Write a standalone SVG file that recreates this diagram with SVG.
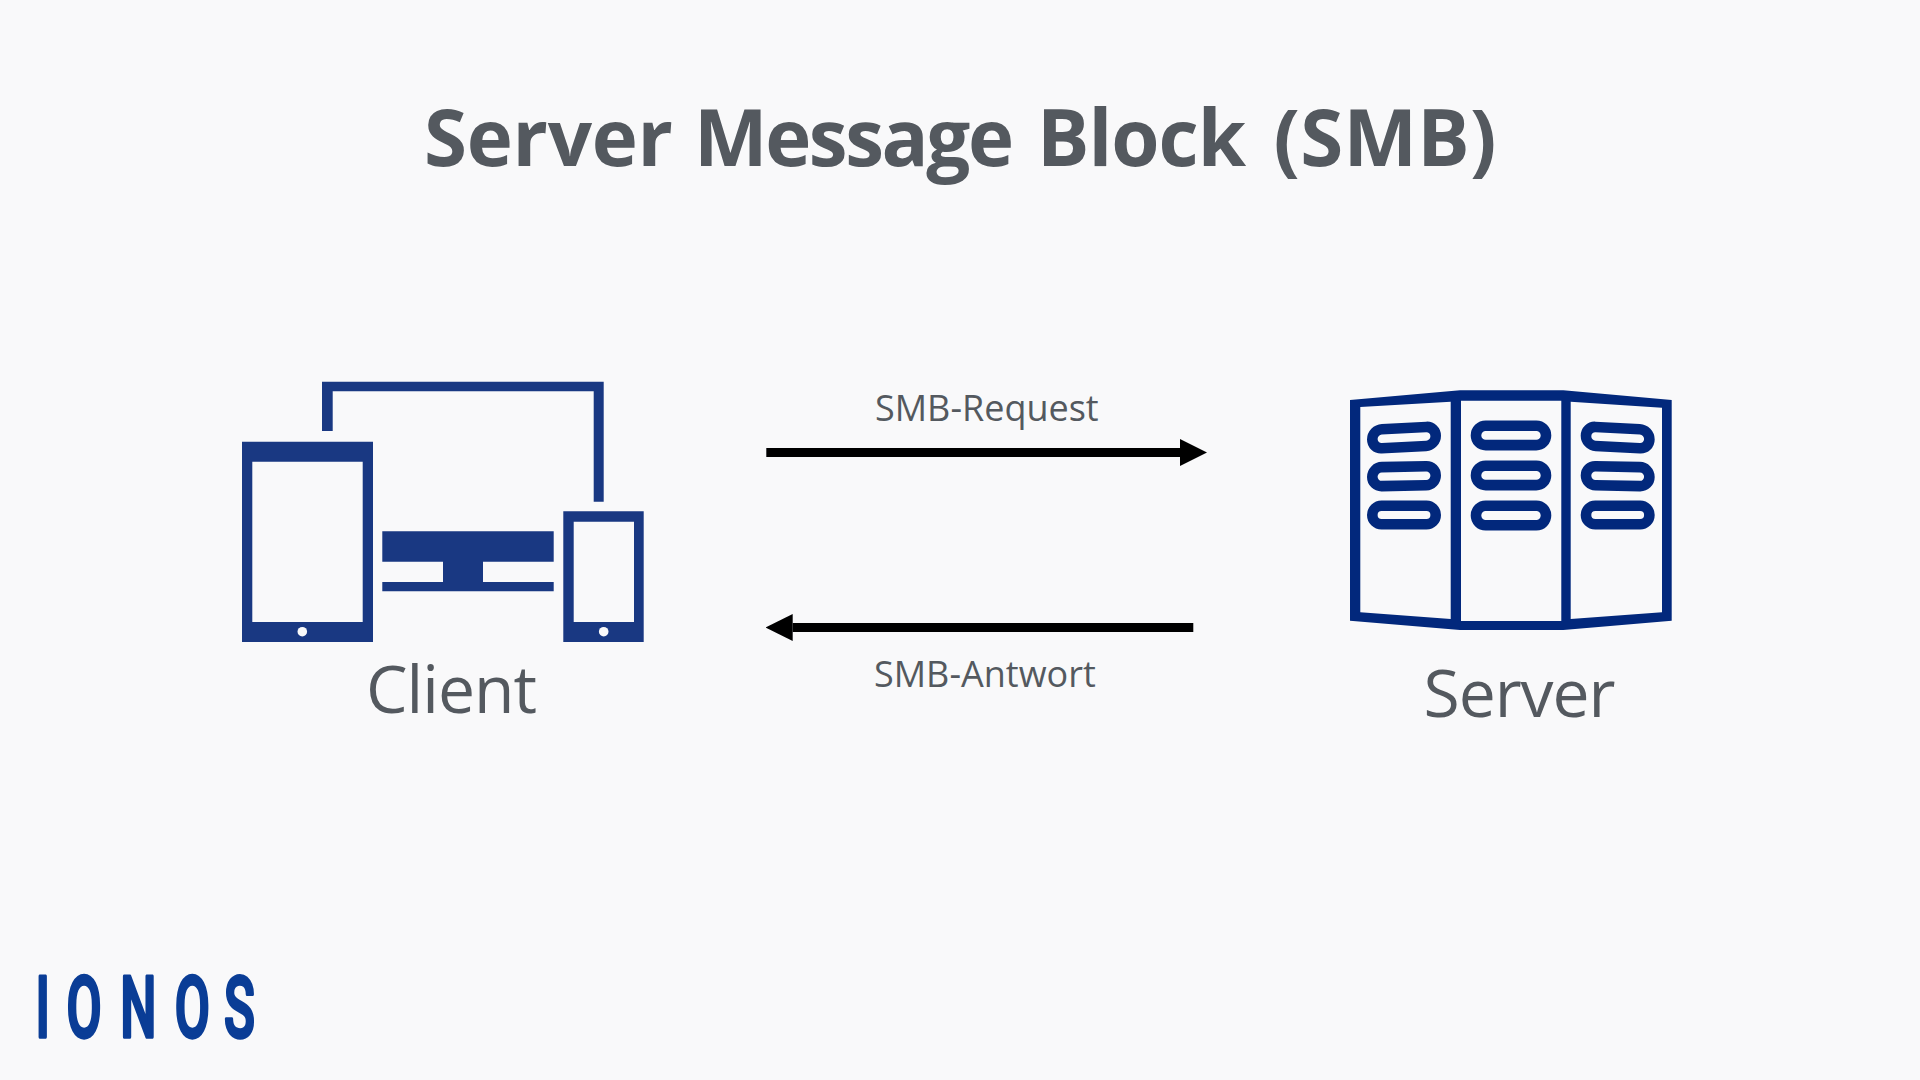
<svg xmlns="http://www.w3.org/2000/svg" width="1920" height="1080" viewBox="0 0 1920 1080">
<style>
.t{font-family:"Open Sans","Noto Sans",sans-serif;fill:#54595f}
.c{fill:#193882}
.s{fill:#02287c;fill-rule:evenodd}
.p{fill:none;stroke:#02287c;stroke-width:10.6}
.h{fill:#f9f9fa}
.a{stroke:#000;stroke-width:9;fill:none;marker-end:url(#ah)}
</style>
<defs>
<marker id="ah" markerUnits="userSpaceOnUse" markerWidth="27" markerHeight="27" refX="0" refY="13.5" orient="auto"><path d="M0 0L27 13.5L0 27Z" fill="#000"/></marker>
</defs>
<rect width="1920" height="1080" fill="#f9f9fa"/>
<text id="title" class="t" y="165.5" font-size="78" font-weight="700"><tspan x="424" textLength="249" lengthAdjust="spacing">Server</tspan> <tspan x="694" textLength="320" lengthAdjust="spacing">Message</tspan> <tspan x="1037" textLength="209" lengthAdjust="spacing">Block</tspan> <tspan x="1273.5" textLength="223" lengthAdjust="spacing">(SMB)</tspan></text>
<g id="client">
<path class="c" d="M322 381.7H603.7V501.7H593.7V391.3H332.7V431H322Z"/>
<path class="c" fill-rule="evenodd" d="M242 441.7H373V642H242ZM252.3 461.7V622H362.7V461.7Z"/>
<circle class="h" cx="302.3" cy="631.7" r="4.8"/>
<path class="c" d="M382.3 531.3H553.7V561.7H483V582H553.7V591.3H382.3V582H443V561.7H382.3Z"/>
<path class="c" fill-rule="evenodd" d="M563.3 511.3H643.7V642H563.3ZM573.7 521.7V622H634V521.7Z"/>
<circle class="h" cx="603.7" cy="631.7" r="4.8"/>
<text class="t" x="366" y="713.2" font-size="66" textLength="171" lengthAdjust="spacing">Client</text>
</g>
<g id="connectors">
<line class="a" x1="766.3" y1="452.5" x2="1180" y2="452.5"/>
<line class="a" x1="1193.3" y1="627.5" x2="792.7" y2="627.5"/>
</g>
<text id="label-request" class="t" x="875" y="420.7" font-size="36">SMB-Request</text>
<text id="label-response" class="t" x="874" y="686.7" font-size="36">SMB-Antwort</text>
<g id="server">
<path class="s" d="M1350 400L1460 390.3H1563.3L1671.7 400V620.7L1563.3 630H1460L1350 620.7ZM1360.3 407V612.3L1450.7 619V401.7ZM1461 400.7V621H1561.3V400.7ZM1570.7 401.7V619L1662 612.3V407.7Z"/>
<rect class="p" x="1476" y="425.7" width="70" height="19.4" rx="9.7"/>
<rect class="p" x="1476" y="465.7" width="70" height="19.4" rx="9.7"/>
<rect class="p" x="1476" y="505.7" width="70" height="19.6" rx="9.7"/>
<rect class="p" x="-31.7" y="-9.5" width="63.4" height="19" rx="9.5" transform="translate(1404 437.6) skewY(-3)"/>
<rect class="p" x="-31.7" y="-9.5" width="63.4" height="19" rx="9.5" transform="translate(1404 476.2) skewY(-1.2)"/>
<rect class="p" x="1372.3" y="505.7" width="63.4" height="18.6" rx="9.3"/>
<rect class="p" x="-31.7" y="-9.5" width="63.4" height="19" rx="9.5" transform="translate(1617.7 437.6) skewY(3)"/>
<rect class="p" x="-31.7" y="-9.5" width="63.4" height="19" rx="9.5" transform="translate(1617.7 476.2) skewY(1.2)"/>
<rect class="p" x="1586" y="505.7" width="63.4" height="18.6" rx="9.3"/>
<text class="t" x="1423.5" y="717" font-size="66" textLength="192" lengthAdjust="spacing">Server</text>
</g>
<text id="logo" transform="scale(.6 1)" x="71.2 140 230.7 320.5 399.2" y="1037.5" text-anchor="middle" font-family="Roboto,sans-serif" font-weight="500" font-size="85" fill="#0a3d96" stroke="#0a3d96" stroke-width="3.4" stroke-linejoin="round">IONOS</text>
</svg>
